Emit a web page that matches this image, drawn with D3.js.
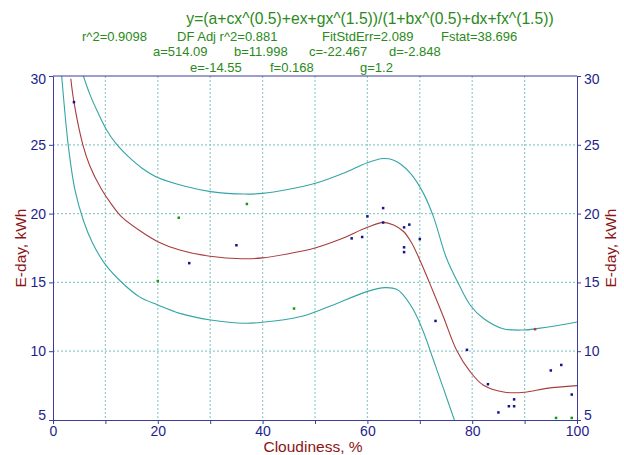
<!DOCTYPE html>
<html><head><meta charset="utf-8">
<script src="https://cdn.jsdelivr.net/npm/d3@7"></script>
<style>body{margin:0;background:#fff}svg{display:block;font-family:"Liberation Sans",Arial,sans-serif}</style>
</head><body><svg id="c" width="624" height="455"></svg>
<script>
const titleText = "y=(a+cx^(0.5)+ex+gx^(1.5))/(1+bx^(0.5)+dx+fx^(1.5))";
const statsRow1 = ["r^2=0.9098", "DF Adj r^2=0.881", "FitStdErr=2.089", "Fstat=38.696"];
const statsRow2 = ["a=514.09", "b=11.998", "c=-22.467", "d=-2.848"];
const statsRow3 = ["e=-14.55", "f=0.168", "g=1.2"];
const xLabel = "Cloudiness, %";
const yLabel = "E-day, kWh";
const xTicks = [0, 10, 20, 30, 40, 50, 60, 70, 80, 90, 100];
const xTickLabels = [0, 20, 40, 60, 80, 100];
const yTicks = [5, 10, 15, 20, 25, 30];

const fitX = [3.4, 4, 5.7, 7, 9.2, 11.2, 13, 16.6, 20, 24.2, 30, 36, 40, 45.2, 50, 54.8, 60, 63, 65, 66.9, 68.4, 70, 71.9, 74.5, 77, 79.6, 82.1, 86, 90, 94.2, 100];
const fitY = [29.8, 28.1, 25.0, 23.5, 21.8, 20.65, 19.8, 18.75, 17.96, 17.35, 16.9, 16.72, 16.78, 17.1, 17.5, 18.13, 19.0, 19.36, 19.17, 18.7, 17.9, 16.63, 14.93, 12.5, 10.09, 8.51, 7.54, 7.03, 7.02, 7.3, 7.5];
const upperX = [5.8, 7, 8.5, 10.2, 12, 14.5, 17, 20.1, 25, 30.1, 36.6, 40, 45, 50.1, 55.4, 60, 63, 64.9, 66.5, 68.5, 70.7, 72.6, 75.1, 77.35, 79.6, 82.1, 85.9, 89.9, 92.3, 96.1, 100];
const upperY = [30, 28.7, 27.4, 26.1, 25.1, 24.1, 23.3, 22.6, 22.0, 21.6, 21.42, 21.47, 21.77, 22.2, 22.93, 23.7, 24.0, 23.9, 23.55, 22.8, 21.47, 19.78, 16.75, 14.93, 13.36, 12.39, 11.63, 11.54, 11.64, 11.85, 12.12];
const lowerX = [1.66, 2.93, 4.2, 5.8, 7.5, 9.9, 13.4, 16.5, 20, 24.2, 30.1, 36.6, 40, 47.1, 51, 53.5, 59.9, 63.4, 65.6, 66.85, 68.8, 70.7, 72.6, 74.5, 76.6];
const lowerY = [30, 24.9, 21.7, 19.5, 17.9, 16.35, 14.9, 13.95, 13.36, 12.75, 12.27, 12.03, 12.1, 12.5, 13.0, 13.36, 14.33, 14.62, 14.5, 14.08, 12.99, 11.4, 9.36, 7.3, 5.0];

const bluePoints = [[4, 28.1], [26, 16.4], [35, 17.7], [57, 18.2], [59, 18.3], [60, 19.8], [63, 20.4], [63, 19.35], [67, 19.0], [68, 19.2], [67, 17.55], [67, 17.2], [70, 18.15], [73, 12.2], [79, 10.1], [83, 7.6], [85, 5.55], [87, 6.0], [88, 6.0], [88, 6.5], [95, 8.6], [97, 9.0], [99, 6.85]];
const greenPoints = [[20, 15.1], [24, 19.7], [37, 20.7], [46, 13.1], [96, 5.15], [99, 5.15]];
const redPoints = [[92, 11.6]];

const svg = d3.select("#c");
const L = 53, R = 577, T = 76, B = 420;
const x = d3.scaleLinear().domain([0, 100]).range([L, R]);
const y = d3.scaleLinear().domain([5, 30]).range([B, T]);
const axisCol = "#3c3c9c", tickTxt = "#1e1e8c", gridCol = "#92cccc", green = "#2a8a1a", dred = "#8c1414";

svg.append("defs").append("clipPath").attr("id", "pc").append("rect")
  .attr("x", L).attr("y", T).attr("width", R - L).attr("height", B - T);

// grid
const g = svg.append("g");
g.selectAll("line.vx").data(xTicks.filter(d => d > 0 && d < 100)).join("line")
  .attr("x1", d => x(d)).attr("x2", d => x(d)).attr("y1", T).attr("y2", B)
  .attr("stroke", gridCol).attr("stroke-width", 1.2).attr("stroke-dasharray", "2,2");
g.selectAll("line.hy").data(yTicks.filter(d => d > 5 && d < 30)).join("line")
  .attr("y1", d => y(d)).attr("y2", d => y(d)).attr("x1", L).attr("x2", R)
  .attr("stroke", gridCol).attr("stroke-width", 1.2).attr("stroke-dasharray", "2,2");

// curves
const line = d3.line().x(d => x(d[0])).y(d => y(d[1])).curve(d3.curveCatmullRom.alpha(0.5));
const cg = svg.append("g").attr("clip-path", "url(#pc)");
cg.append("path").attr("d", line(upperX.map((v, i) => [v, upperY[i]]))).attr("fill", "none").attr("stroke", "#35a5a5").attr("stroke-width", 1.1);
cg.append("path").attr("d", line(lowerX.map((v, i) => [v, lowerY[i]]))).attr("fill", "none").attr("stroke", "#35a5a5").attr("stroke-width", 1.1);
cg.append("path").attr("d", line(fitX.map((v, i) => [v, fitY[i]]))).attr("fill", "none").attr("stroke", "#a83c3c").attr("stroke-width", 1.1);

// points
const pts = (arr, col) => svg.append("g").selectAll("rect").data(arr).join("rect")
  .attr("x", d => x(d[0]) - 1.25).attr("y", d => y(d[1]) - 1.25).attr("width", 2.5).attr("height", 2.5).attr("fill", col);
pts(bluePoints, "#14148c");
pts(greenPoints, "#129a12");
pts(redPoints, "#c03838");

// axes
const bAxis = d3.axisBottom(x).tickValues(xTicks).tickSize(4).tickSizeOuter(0).tickFormat(d => xTickLabels.includes(d) ? d : "");
const bg = svg.append("g").attr("transform", `translate(0,${B})`).call(bAxis);
const lAxis = d3.axisLeft(y).tickValues(yTicks).tickSize(4).tickSizeOuter(0);
const lg = svg.append("g").attr("transform", `translate(${L},0)`).call(lAxis);
const rAxis = d3.axisRight(y).tickValues(yTicks).tickSize(4).tickSizeOuter(0);
const rg = svg.append("g").attr("transform", `translate(${R},0)`).call(rAxis);
[bg, lg, rg].forEach(a => {
  a.selectAll(".domain").attr("stroke", axisCol);
  a.selectAll(".tick line").attr("stroke", axisCol);
  a.selectAll(".tick text").attr("fill", tickTxt).attr("font-size", 14).attr("font-family", "Liberation Sans, Arial, sans-serif");
});
bg.selectAll(".tick text").attr("y", 6);
[lg, rg].forEach(a => a.selectAll(".tick text").attr("dy", d => d === 5 ? "-0.05em" : d === 30 ? "0.55em" : "0.32em"));
svg.append("line").attr("x1", L).attr("x2", R).attr("y1", T).attr("y2", T).attr("stroke", axisCol);

// axis titles
svg.append("text").attr("x", (L + R) / 2 - 2).attr("y", 452).attr("text-anchor", "middle")
  .attr("font-size", 15.5).attr("fill", dred).text(xLabel);
svg.append("text").attr("transform", `translate(26,${(T + B) / 2}) rotate(-90)`).attr("text-anchor", "middle")
  .attr("font-size", 15.5).attr("fill", dred).text(yLabel);
svg.append("text").attr("transform", `translate(616,${(T + B) / 2}) rotate(-90)`).attr("text-anchor", "middle")
  .attr("font-size", 15.5).attr("fill", dred).text(yLabel);

// header
svg.append("text").attr("x", 370).attr("y", 24).attr("text-anchor", "middle").attr("font-size", 15.7).attr("fill", green).text(titleText);
const row = (arr, xs, yy) => arr.forEach((t, i) => svg.append("text").attr("x", xs[i]).attr("y", yy).attr("font-size", 13).attr("fill", green).text(t));
row(statsRow1, [82, 177, 322, 441], 41);
row(statsRow2, [153, 234, 309, 389], 56);
row(statsRow3, [190, 270, 360], 72);
</script></body></html>
